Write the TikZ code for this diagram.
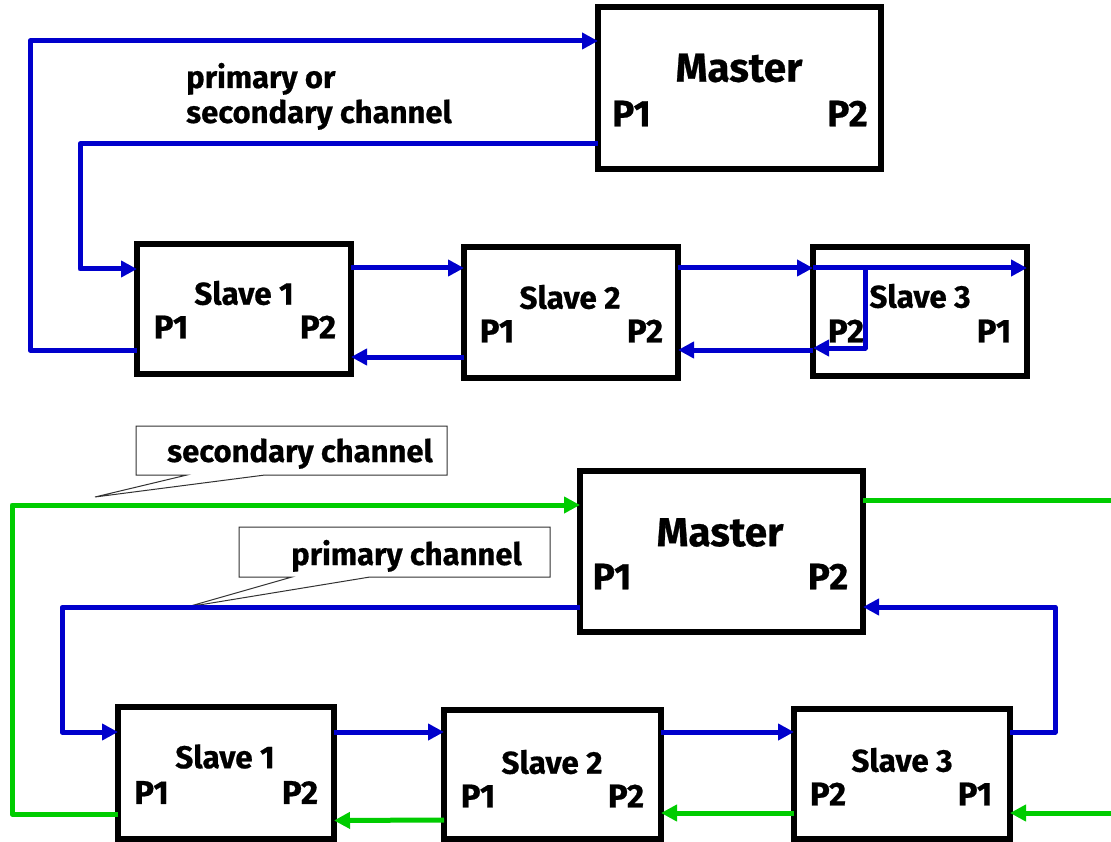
\documentclass[tikz,border=0pt]{standalone}
\usepackage{fontspec}
\setmainfont{Fira Sans}[BoldFeatures={FakeBold=0.6}]
\usetikzlibrary{arrows.meta,calc}
\definecolor{chblue}{RGB}{0,0,204}
\definecolor{chgreen}{RGB}{0,204,0}
\definecolor{callgray}{RGB}{50,50,50}
\begin{document}
\begin{tikzpicture}[x=1pt,y=-1pt,
  box/.style={draw=black,line width=6pt,fill=white,inner sep=0pt,outer sep=0pt},
  stxt/.style={font=\fontsize{31.5}{36}\selectfont\bfseries,inner sep=0pt},
  ptxt/.style={font=\fontsize{33}{38}\selectfont\bfseries,inner sep=0pt},
  mtxt/.style={font=\fontsize{40.5}{46}\selectfont\bfseries,inner sep=0pt},
  mptxt/.style={font=\fontsize{37}{42}\selectfont\bfseries,inner sep=0pt},
  ltxt/.style={font=\fontsize{31}{36}\selectfont\bfseries,inner sep=0pt,anchor=base west},
  link/.style={line width=5pt,line join=round},
  tip/.style={-{Triangle[length=16pt,width=16pt]}},
  bl/.style={link,draw=chblue},
  gr/.style={link,draw=chgreen},
  callout/.style={draw=callgray,line width=1pt,fill=white,line join=miter}
]
\useasboundingbox (0,0) rectangle (1111,842);
\fill[white] (0,0) rectangle (1111,842);

% ---------- top diagram ----------
\node[box,minimum width=283pt,minimum height=162pt] (m1) at (739.5,88) {};
\node[box,minimum width=214pt,minimum height=130pt] (s1) at (244,309) {};
\node[box,minimum width=214pt,minimum height=131pt] (s2) at (571,312.5) {};
\node[box,minimum width=214pt,minimum height=129pt] (s3) at (920,311.5) {};

\node[mtxt] (m1n) at ($(m1)+(-0.5,-20)$) {Master};
\node[mptxt] (m1p) at ($(m1)+(-108,25.5)$) {P1};
\node[mptxt] (m1q) at ($(m1)+(108,25.5)$) {P2};

\node[stxt] (s1n) at ($(s1)+(0,-16)$) {Slave 1};
\node[ptxt] (s1p) at ($(s1)+(-73,18)$) {P1};
\node[ptxt] (s1q) at ($(s1)+(74,18)$) {P2};

\node[stxt] (s2n) at ($(s2)+(-1,-15.5)$) {Slave 2};
\node[ptxt] (s2p) at ($(s2)+(-74,18.5)$) {P1};
\node[ptxt] (s2q) at ($(s2)+(74,18.5)$) {P2};

\node[stxt] (s3n) at ($(s3)+(0,-15.5)$) {Slave 3};
\node[ptxt] (s3p) at ($(s3)+(-74,19.5)$) {P2};
\node[ptxt] (s3q) at ($(s3)+(74,19.5)$) {P1};

\node[ltxt] (lab1) at (186,88) {primary or};
\node[ltxt] (lab2) at (186,123) {secondary channel};

\coordinate (k1) at (30,41);
\coordinate (k2) at (80,269);
\coordinate (k3) at (865,268);

\draw[bl,tip] ($(s1.west)+(0,41)$) -| (k1) -- ($(m1.west)+(0,-47)$);
\draw[bl,tip] ($(m1.west)+(0,56)$) -| (k2) -- ($(s1.west)+(0,-40)$);
\draw[bl,tip] ($(s1.east)+(0,-41)$) -- ($(s2.west)+(0,-44.5)$);
\draw[bl,tip] ($(s2.west)+(0,44.5)$) -- ($(s1.east)+(0,48)$);
\draw[bl,tip] ($(s2.east)+(0,-44.5)$) -- ($(s3.west)+(0,-43.5)$);
\draw[bl,tip] ($(s3.west)+(0,-43.5)$) -- ($(s3.east)+(0,-43.5)$);
\draw[bl,tip] (k3) |- ($(s3.west)+(0,36.5)$);
\draw[bl,tip] ($(s3.west)+(0,38.5)$) -- ($(s2.east)+(0,37.5)$);

% ---------- bottom diagram ----------
\node[box,minimum width=283pt,minimum height=161pt] (m2) at (721.5,551.5) {};
\node[box,minimum width=216pt,minimum height=132pt] (t1) at (226,773) {};
\node[box,minimum width=217pt,minimum height=129pt] (t2) at (552.5,774.5) {};
\node[box,minimum width=216pt,minimum height=130pt] (t3) at (902,774) {};

\node[mtxt] (m2n) at ($(m2)+(-1.5,-19)$) {Master};
\node[mptxt] (m2p) at ($(m2)+(-109.5,25)$) {P1};
\node[mptxt] (m2q) at ($(m2)+(106.5,25)$) {P2};

\node[stxt] (t1n) at ($(t1)+(-1,-16.5)$) {Slave 1};
\node[ptxt] (t1p) at ($(t1)+(-74.5,19.5)$) {P1};
\node[ptxt] (t1q) at ($(t1)+(74,19.5)$) {P2};

\node[stxt] (t2n) at ($(t2)+(-0.5,-12.5)$) {Slave 2};
\node[ptxt] (t2p) at ($(t2)+(-74.5,21.5)$) {P1};
\node[ptxt] (t2q) at ($(t2)+(73.5,21.5)$) {P2};

\node[stxt] (t3n) at ($(t3)+(0,-14)$) {Slave 3};
\node[ptxt] (t3p) at ($(t3)+(-74,20)$) {P2};
\node[ptxt] (t3q) at ($(t3)+(73,20)$) {P1};

% callouts
\draw[callout] (136,426) -- (447,426) -- (447,475) -- (265,475) -- (95,497) -- (187,475) -- (136,475) -- cycle;
\node[ltxt] (c1) at (167,462) {secondary channel};
\draw[callout] (239,527) -- (550,527) -- (550,577) -- (370,577) -- (187,607) -- (292,577) -- (239,577) -- cycle;
\node[ltxt] (c2) at (291,565) {primary channel};

\coordinate (g1) at (12,505);
\coordinate (gR1) at (1116,500.5);
\coordinate (gR2) at (1116,813);
\coordinate (b1) at (62,732);
\coordinate (b2) at (1055,607);

\draw[gr,tip] ($(t1.west)+(0,41)$) -| (g1) -- ($(m2.west)+(0,-46.5)$);
\draw[gr] ($(m2.east)+(0,-51)$) -- (gR1);
\draw[gr,tip] (gR2) -- ($(t3.east)+(0,39)$);
\draw[gr,tip] ($(t3.west)+(0,39)$) -- ($(t2.east)+(0,38.5)$);
\draw[gr,tip] ($(t2.west)+(0,45.5)$) -- ($(t1.east)+(0,47.5)$);

\draw[bl,tip] ($(m2.west)+(0,56)$) -| (b1) -- ($(t1.west)+(0,-41)$);
\draw[bl,tip] ($(t1.east)+(0,-41)$) -- ($(t2.west)+(0,-42.5)$);
\draw[bl,tip] ($(t2.east)+(0,-42.5)$) -- ($(t3.west)+(0,-42)$);
\draw[bl,tip] ($(t3.east)+(0,-42)$) -| (b2) -- ($(m2.east)+(0,55.5)$);
\end{tikzpicture}
\end{document}
